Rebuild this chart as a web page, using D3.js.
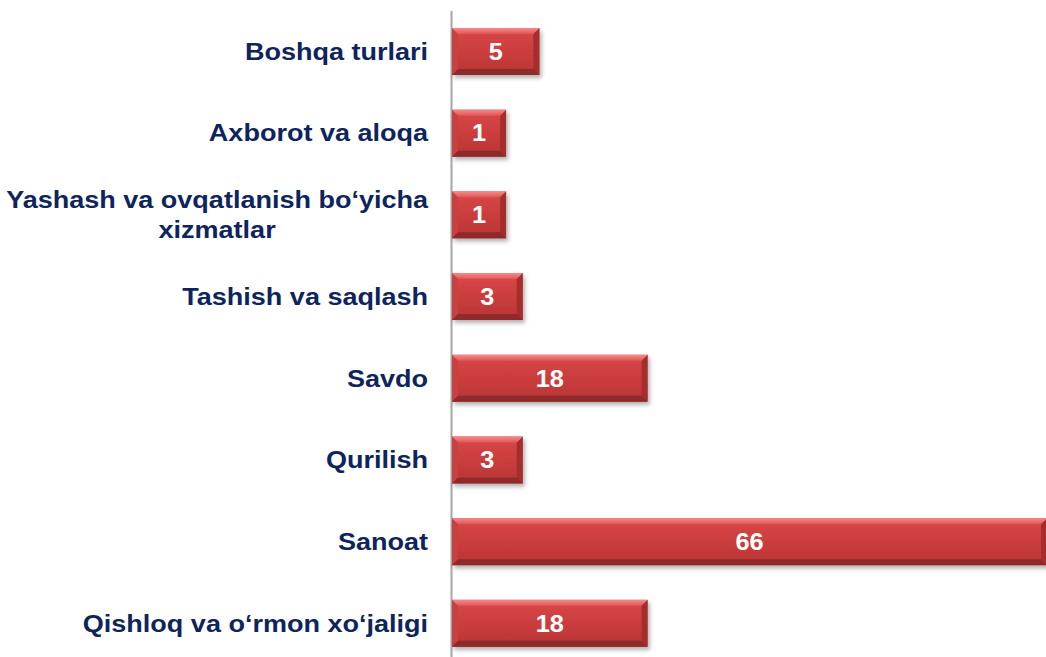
<!DOCTYPE html>
<html>
<head>
<meta charset="utf-8">
<script src="https://cdn.jsdelivr.net/npm/d3@7"></script>
<style>
  body { margin: 0; background: #fff; }
  text { font-family: "Liberation Sans", Arial, sans-serif; font-weight: bold; }
</style>
</head>
<body>
<svg id="chart" width="1046" height="657"></svg>
<script>
// categories, top to bottom ("\n" = line break in label)
const categories = [
    "Boshqa turlari",
    "Axborot va aloqa",
    "Yashash va ovqatlanish bo‘yicha\nxizmatlar",
    "Tashish va saqlash",
    "Savdo",
    "Qurilish",
    "Sanoat",
    "Qishloq va o‘rmon xo‘jaligi"
];
const values = [5, 1, 1, 3, 18, 3, 66, 18];

var svg = d3.select("#chart");
const width = +svg.attr("width");
const height = +svg.attr("height");

const axisX = 452;      // left edge of bars
const labelRight = 428; // right edge of category labels
const fontSize = 23;
const stretch = 1.175;  // labels look horizontally stretched in the original

// the original chart doesn't start its value axis at zero
var xScale = d3.scaleLinear()
    .domain([-5.5, 66])
    .range([axisX, 1047]);

var yScale = d3.scaleBand()
    .domain(categories)
    .range([10.6, 664.2])
    .paddingInner(0.425)
    .paddingOuter(0.2125);

// gradients + shadow
var defs = svg.append("defs");
var bodyGrad = defs.append("linearGradient").attr("id", "body").attr("x1", 0).attr("y1", 0).attr("x2", 0).attr("y2", 1);
bodyGrad.append("stop").attr("offset", "0%").attr("stop-color", "#d94848");
bodyGrad.append("stop").attr("offset", "55%").attr("stop-color", "#c93c3c");
bodyGrad.append("stop").attr("offset", "100%").attr("stop-color", "#b83535");

var topGrad = defs.append("linearGradient").attr("id", "topBevel").attr("x1", 0).attr("y1", 0).attr("x2", 0).attr("y2", 1);
topGrad.append("stop").attr("offset", "0%").attr("stop-color", "#f78a8a");
topGrad.append("stop").attr("offset", "100%").attr("stop-color", "#e05656");

var shadow = defs.append("filter").attr("id", "shadow")
    .attr("x", "-5%").attr("y", "-20%").attr("width", "115%").attr("height", "160%");
shadow.append("feDropShadow")
    .attr("dx", 2).attr("dy", 3).attr("stdDeviation", 2.2)
    .attr("flood-color", "#000").attr("flood-opacity", 0.3);

// vertical axis line, no ticks
svg.append("g")
    .attr("class", "yaxis")
    .attr("transform", "translate(" + (axisX - 1) + ",0)")
    .call(d3.axisLeft(yScale).tickSize(0).tickSizeOuter(0).tickFormat(""))
    .call(g => g.select(".domain").attr("stroke", "#a6a6a6").attr("stroke-width", 2));

const data = categories.map((c, i) => ({ cat: c, value: values[i] }));
const b = 6; // bevel size

var bars = svg.append("g").selectAll("g.bar")
    .data(data)
    .enter()
    .append("g")
    .attr("class", "bar")
    .attr("filter", "url(#shadow)");

bars.each(function (d) {
    var g = d3.select(this);
    var x0 = xScale.range()[0], x1 = xScale(d.value);
    var y0 = yScale(d.cat), y1 = y0 + yScale.bandwidth();
    var pts = (arr) => arr.map(p => p.join(",")).join(" ");

    g.append("rect")
        .attr("x", x0).attr("y", y0)
        .attr("width", x1 - x0).attr("height", y1 - y0)
        .attr("fill", "url(#body)");
    // left
    g.append("polygon")
        .attr("points", pts([[x0, y0], [x0 + b, y0 + b], [x0 + b, y1 - b], [x0, y1]]))
        .attr("fill", "#c94040");
    // right
    g.append("polygon")
        .attr("points", pts([[x1, y0], [x1, y1], [x1 - b, y1 - b], [x1 - b, y0 + b]]))
        .attr("fill", "#a42f2f");
    // bottom
    g.append("polygon")
        .attr("points", pts([[x0, y1], [x1, y1], [x1 - b, y1 - b], [x0 + b, y1 - b]]))
        .attr("fill", "#8f2a2a");
    // top
    g.append("polygon")
        .attr("points", pts([[x0, y0], [x1, y0], [x1 - b, y0 + b], [x0 + b, y0 + b]]))
        .attr("fill", "url(#topBevel)");
});

// value labels
svg.append("g").selectAll("g.val")
    .data(data)
    .enter()
    .append("g")
    .attr("transform", d => "translate(" + ((xScale.range()[0] + xScale(d.value)) / 2) + "," +
        (yScale(d.cat) + yScale.bandwidth() / 2 + fontSize * 0.36) + ") scale(1.1,1)")
    .append("text")
    .attr("text-anchor", "middle")
    .attr("font-size", fontSize)
    .attr("fill", "#ffffff")
    .text(d => d.value);

// category labels (multi-line ones are centred, block right-aligned)
const lineGap = 30;
svg.append("g").selectAll("g.lab")
    .data(data)
    .enter()
    .append("g")
    .attr("transform", d => "translate(" + labelRight + "," + (yScale(d.cat) + yScale.bandwidth() / 2) + ") scale(" + stretch + ",1)")
    .each(function (d) {
        var g = d3.select(this);
        var lines = d.cat.split("\n");
        var texts = lines.map((ln, i) => g.append("text")
            .attr("font-size", fontSize)
            .attr("fill", "#0e245c")
            .attr("y", (i - (lines.length - 1) / 2) * lineGap + fontSize * 0.36)
            .text(ln));
        var maxW = d3.max(texts, t => t.node().getComputedTextLength());
        texts.forEach(t => t.attr("text-anchor", "middle").attr("x", -maxW / 2));
    });
</script>
</body>
</html>
